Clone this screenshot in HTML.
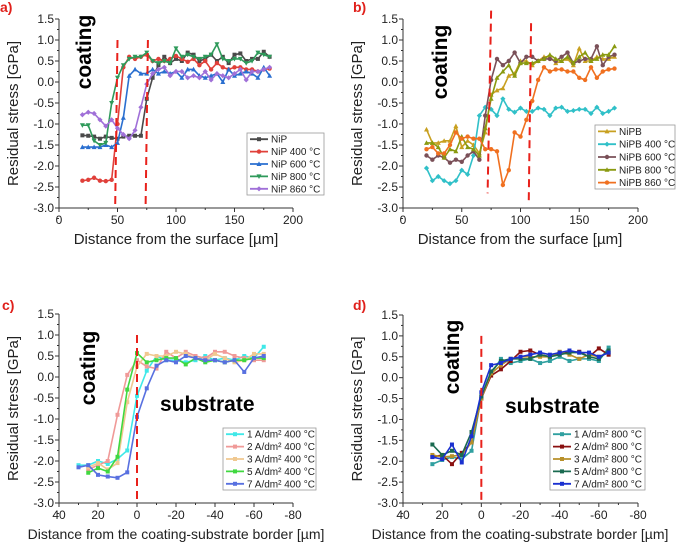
<!DOCTYPE html>
<html><head><meta charset="utf-8">
<style>
body{margin:0;background:#fff;}
svg{display:block;font-family:"Liberation Sans",sans-serif;}
</style></head>
<body>
<svg id="chart" width="685" height="544" viewBox="0 0 685 544" xmlns="http://www.w3.org/2000/svg"></svg>
<script>
// ----- Panel a data -----
const aX = [20,25,30,35,40,45,50,55,60,65,70,75,80,85,90,95,100,105,110,115,120,125,130,135,140,145,150,155,160,165,170,175,180];
const aNames = ["NiP","NiP 400 °C","NiP 600 °C","NiP 800 °C","NiP 860 °C"];
const aNiP = [-1.27,-1.28,-1.3,-1.35,-1.3,-1.33,-1.35,-1.3,-1.28,-1.28,-1.28,-0.4,0.1,0.4,0.6,0.45,0.55,0.5,0.7,0.65,0.5,0.55,0.65,0.5,0.6,0.45,0.65,0.68,0.5,0.55,0.55,0.72,0.6];
const aNiP400 = [-2.35,-2.33,-2.28,-2.35,-2.36,-2.33,-1.0,0.35,0.6,0.55,0.6,0.65,0.5,0.55,0.5,0.55,0.62,0.55,0.48,0.55,0.4,0.5,0.3,0.45,0.35,0.3,0.35,0.35,0.3,0.3,0.25,0.3,0.32];
const aNiP600 = [-1.55,-1.55,-1.55,-1.55,-1.5,-1.55,-1.45,-0.85,0.15,0.3,0.2,0.2,0.3,0.2,0.25,0.2,0.25,0.1,0.3,0.3,0.15,0.1,0.15,0.2,0.0,0.3,0.15,0.2,0.25,0.2,0.1,0.35,0.15];
const aNiP800 = [-1.03,-1.03,-1.4,-1.5,-1.45,-0.5,0.1,0.4,0.55,0.6,0.6,0.7,0.5,0.45,0.5,0.45,0.8,0.6,0.65,0.6,0.55,0.6,0.65,0.9,0.55,0.5,0.55,0.55,0.45,0.5,0.7,0.65,0.6];
const aNiP860 = [-0.78,-0.72,-0.75,-0.9,-1.05,-0.9,-1.1,-1.25,-1.35,-1.15,-0.6,-0.05,0.2,0.3,0.35,0.15,0.25,0.25,0.1,0.15,0.1,0.25,0.05,0.2,0.15,0.1,0.2,0.3,0.05,0.25,0.25,0.3,0.35];
// ----- Panel b data -----
const bX = aX;
const bNames = ["NiPB","NiPB 400 °C","NiPB 600 °C","NiPB 800 °C","NiPB 860 °C"];
const bNiPB = [-1.13,-1.45,-1.45,-1.4,-1.4,-1.05,-1.55,-1.4,-1.5,-1.7,-1.2,-0.3,-0.2,-0.15,0.15,0.2,0.5,0.5,0.4,0.5,0.6,0.6,0.45,0.5,0.55,0.4,0.8,0.5,0.5,0.6,0.55,0.55,0.6];
const bNiPB400 = [-2.05,-2.35,-2.25,-2.35,-2.42,-2.35,-2.1,-2.2,-1.75,-0.8,-0.6,-0.65,-0.8,-0.4,-0.65,-0.72,-0.62,-0.7,-0.7,-0.62,-0.65,-0.8,-0.62,-0.6,-0.7,-0.68,-0.65,-0.65,-0.75,-0.6,-0.75,-0.7,-0.62];
const bNiPB600 = [-1.75,-1.85,-1.75,-1.8,-1.92,-1.85,-1.9,-1.75,-1.65,-1.85,-0.8,0.05,0.55,0.4,0.5,0.7,0.45,0.6,0.6,0.5,0.55,0.55,0.5,0.6,0.7,0.45,0.5,0.55,0.55,0.85,0.4,0.6,0.65];
const bNiPB800 = [-1.45,-1.45,-1.55,-1.8,-1.6,-1.65,-1.3,-1.55,-1.6,-1.75,-1.1,-0.4,0.1,0.25,0.4,0.15,0.45,0.45,0.45,0.5,0.55,0.65,0.55,0.5,0.6,0.45,0.6,0.7,0.5,0.55,0.65,0.65,0.85];
const bNiPB860 = [-1.6,-1.55,-1.7,-1.7,-1.5,-1.2,-1.35,-1.3,-1.35,-1.35,-1.6,-1.6,-1.65,-2.45,-2.1,-1.2,-1.3,-0.9,-0.45,0.05,0.35,0.25,0.3,0.3,0.25,0.25,0.1,0.05,0.35,0.1,0.25,0.3,0.32];
// ----- Panel c data -----
const cX30 = [30,25,20,15,10,5,0,-5,-10,-15,-20,-25,-30,-35,-40,-45,-50,-55,-60,-65];
const cX25 = [25,20,15,10,5,0,-5,-10,-15,-20,-25,-30,-35,-40,-45,-50,-55,-60,-65];
const cNames = ["1 A/dm² 400 °C","2 A/dm² 400 °C","3 A/dm² 400 °C","5 A/dm² 400 °C","7 A/dm² 400 °C"];
const c1 = [-2.1,-2.1,-2.0,-2.07,-1.95,-1.75,-0.45,0.15,0.5,0.4,0.4,0.35,0.4,0.5,0.4,0.45,0.4,0.5,0.45,0.72];
const c2 = [-2.2,-2.1,-2.0,-0.9,0.05,0.4,0.25,0.2,0.6,0.45,0.6,0.5,0.45,0.6,0.6,0.5,0.45,0.4,0.4];
const c3 = [-2.15,-2.05,-2.2,-2.05,-0.6,0.25,0.55,0.5,0.5,0.6,0.55,0.45,0.4,0.55,0.45,0.35,0.4,0.55,0.55];
const c5 = [-2.28,-2.17,-2.25,-1.9,-0.3,0.57,0.35,0.4,0.45,0.45,0.3,0.45,0.35,0.4,0.35,0.4,0.4,0.45,0.45];
const c7 = [-2.15,-2.1,-2.33,-2.37,-2.4,-2.27,-0.95,-0.27,0.27,0.4,0.35,0.5,0.45,0.4,0.4,0.35,0.4,0.12,0.45,0.5];
// ----- Panel d data -----
const dX = cX25;
const dNames = ["1 A/dm² 800 °C","2 A/dm² 800 °C","3 A/dm² 800 °C","5 A/dm² 800 °C","7 A/dm² 800 °C"];
const d1 = [-2.07,-1.97,-1.9,-1.95,-1.75,-0.45,0.1,0.45,0.35,0.4,0.45,0.35,0.4,0.5,0.4,0.45,0.45,0.4,0.72];
const d2 = [-1.9,-1.85,-2.07,-1.8,-1.55,-0.5,0.05,0.2,0.4,0.62,0.65,0.55,0.5,0.6,0.6,0.62,0.5,0.7,0.55];
const d3 = [-1.85,-1.9,-1.88,-1.85,-1.55,-0.5,0.1,0.3,0.45,0.5,0.5,0.5,0.5,0.62,0.55,0.45,0.55,0.5,0.6];
const d5 = [-1.6,-1.85,-1.75,-1.85,-1.3,-0.45,0.15,0.4,0.45,0.45,0.45,0.55,0.5,0.55,0.6,0.6,0.5,0.45,0.65];
const d7 = [-1.9,-1.95,-1.6,-2.03,-1.4,-0.35,0.3,0.35,0.45,0.5,0.55,0.6,0.55,0.6,0.65,0.6,0.6,0.5,0.6];
const yTicks = [1.5,1.0,0.5,0.0,-0.5,-1.0,-1.5,-2.0,-2.5,-3.0];
const surfTicks = [0,50,100,150,200];
const borderTicks = [40,20,0,-20,-40,-60,-80];

const NS="http://www.w3.org/2000/svg";
const svg=document.getElementById('chart');
function el(tag,attrs,parent,text){const e=document.createElementNS(NS,tag);for(const k in attrs)e.setAttribute(k,attrs[k]);if(text!==undefined)e.textContent=text;(parent||svg).appendChild(e);return e;}

function marker(g,type,x,y,color){
  let m;
  if(type==='sq') m=el('rect',{x:x-2,y:y-2,width:4,height:4,fill:color},g);
  else if(type==='ci') m=el('circle',{cx:x,cy:y,r:2.2,fill:color},g);
  else if(type==='tu') m=el('path',{d:`M${x},${y-2.6}L${x+2.5},${y+2}L${x-2.5},${y+2}Z`,fill:color},g);
  else if(type==='td') m=el('path',{d:`M${x},${y+2.6}L${x+2.5},${y-2}L${x-2.5},${y-2}Z`,fill:color},g);
  else m=el('path',{d:`M${x},${y-2.6}L${x+2.6},${y}L${x},${y+2.6}L${x-2.6},${y}Z`,fill:color},g);
  
  
}

function panel(cfg){
  const g=el('g',{});
  const {x0,x1,y0,y1,xmin,xmax}=cfg;
  const sx=v=>x0+(v-xmin)/(xmax-xmin)*(x1-x0);
  const sy=v=>y1+(v-1.5)/(-3.0-1.5)*(y0-y1);
  // label
  el('text',{x:cfg.lx,y:cfg.ly,'font-size':14,'font-weight':'bold',fill:'#e0201b',},g,cfg.label);
  // axes
  el('line',{x1:x0,y1:y1,x2:x0,y2:y0,stroke:'#333','stroke-width':1,},g);
  el('line',{x1:x0,y1:y0,x2:x1,y2:y0,stroke:'#333','stroke-width':1,},g);
  yTicks.forEach(t=>{const y=sy(t);
    el('line',{x1:x0-4,y1:y,x2:x0,y2:y,stroke:'#333'},g);
    el('line',{x1:x0-2,y1:sy(t-0.25),x2:x0,y2:sy(t-0.25),stroke:'#333'},g);
    el('text',{x:x0-5,y:y+4,'font-size':12,'text-anchor':'end',fill:'#222',},g,t.toFixed(1));
  });
  const xt=cfg.xticks, step=(xt[1]-xt[0])/2;
  xt.forEach((t,i)=>{const x=sx(t);
    el('line',{x1:x,y1:y0,x2:x,y2:y0+4,stroke:'#333'},g);
    if(i<xt.length-1) el('line',{x1:sx(t+step),y1:y0,x2:sx(t+step),y2:y0+2,stroke:'#333'},g);
    el('text',{x:x,y:y0+16,'font-size':12,'text-anchor':'middle',fill:'#222',},g,String(t));
  });
  el('text',{x:(cfg.tx),y:y0+36,'font-size':cfg.tfs,'text-anchor':'middle',fill:'#222',},g,cfg.xtitle);
  const ycx=x0-41, ycy=(y0+y1)/2;
  el('text',{x:ycx,y:ycy,'font-size':15,'text-anchor':'middle',fill:'#222',transform:`rotate(-90 ${ycx} ${ycy})`,},g,'Residual stress [GPa]');
  // annotations
  el('text',{x:cfg.coat[0],y:cfg.coat[1],'font-size':21,'font-weight':'bold','text-anchor':'middle',fill:'#000',transform:`rotate(-90 ${cfg.coat[0]} ${cfg.coat[1]})`,},g,'coating');
  if(cfg.sub) el('text',{x:cfg.sub[0],y:cfg.sub[1],'font-size':21,'font-weight':'bold',fill:'#000',},g,'substrate');
  // series
  cfg.series.forEach((s,si)=>{
    const sg=el('g',{},g);
    const pts=s.y.map((v,i)=>sx(s.x[i])+','+sy(v)).join(' ');
    el('polyline',{points:pts,fill:'none',stroke:s.c,'stroke-width':1.6},sg);
    s.y.forEach((v,i)=>marker(sg,s.m,sx(s.x[i]),sy(v),s.c));
  });
  // dashed lines
  cfg.dash.forEach(d=>{
    el('line',{x1:sx(d[0]),y1:sy(d[1]),x2:sx(d[2]),y2:sy(d[3]),stroke:'#e8211b','stroke-width':2,'stroke-dasharray':'8,5',},g);
  });
  // legend
  const L=cfg.legend;
  const lg=el('g',{},g);
  el('rect',{x:L[0],y:L[1],width:L[2],height:L[3],fill:'#fff',stroke:'#999','stroke-width':0.8},lg);
  const rowH=L[3]/5;
  cfg.series.forEach((s,i)=>{const y=L[1]+rowH*(i+0.5);
    const le=el('g',{},lg);
    el('line',{x1:L[0]+3,y1:y,x2:L[0]+21,y2:y,stroke:s.c,'stroke-width':1.8},le);
    marker(le,s.m,L[0]+12,y,s.c);
    el('text',{x:L[0]+24,y:y+3.5,'font-size':10,fill:'#222'},le,s.n);
  });
}

panel({name:'panel-a',label:'a)',lx:0,ly:12,x0:59,x1:293,y0:208,y1:19,xmin:0,xmax:200,xticks:surfTicks,
  xtitle:'Distance from the surface [µm]',tx:176,tfs:15,coat:[91,52],
  dash:[[50,1.0,48,-3.0],[76,1.0,74,-3.0]],legend:[247,133,77,62],
  series:[{n:aNames[0],x:aX,y:aNiP,c:'#4a4a4a',m:'sq'},{n:aNames[1],x:aX,y:aNiP400,c:'#e0403a',m:'ci'},{n:aNames[2],x:aX,y:aNiP600,c:'#2a6fd0',m:'tu'},{n:aNames[3],x:aX,y:aNiP800,c:'#2e9a5a',m:'td'},{n:aNames[4],x:aX,y:aNiP860,c:'#a070d8',m:'di'}]});
panel({name:'panel-b',label:'b)',lx:353,ly:12,x0:403,x1:638,y0:208,y1:19,xmin:0,xmax:200,xticks:surfTicks,
  xtitle:'Distance from the surface [µm]',tx:520,tfs:15,coat:[447,62],
  dash:[[75,1.7,72,-2.65],[109,1.4,107,-2.9]],legend:[595,125,80,64],
  series:[{n:bNames[0],x:bX,y:bNiPB,c:'#c8a020',m:'tu'},{n:bNames[1],x:bX,y:bNiPB400,c:'#30c0c8',m:'di'},{n:bNames[2],x:bX,y:bNiPB600,c:'#7a5058',m:'ci'},{n:bNames[3],x:bX,y:bNiPB800,c:'#8a9a10',m:'tu'},{n:bNames[4],x:bX,y:bNiPB860,c:'#f07020',m:'ci'}]});
panel({name:'panel-c',label:'c)',lx:2,ly:310,x0:59,x1:293,y0:503,y1:314,xmin:40,xmax:-80,xticks:borderTicks,
  xtitle:'Distance from the coating-substrate border [µm]',tx:176,tfs:14,coat:[95,368],sub:[160,411],
  dash:[[0,1.0,0,-3.0]],legend:[223,428,93,62],
  series:[{n:cNames[0],x:cX30,y:c1,c:'#40e8e8',m:'sq'},{n:cNames[1],x:cX25,y:c2,c:'#f09a98',m:'sq'},{n:cNames[2],x:cX25,y:c3,c:'#f0c890',m:'sq'},{n:cNames[3],x:cX25,y:c5,c:'#40d840',m:'sq'},{n:cNames[4],x:cX30,y:c7,c:'#5870e0',m:'sq'}]});
panel({name:'panel-d',label:'d)',lx:353,ly:310,x0:403,x1:638,y0:503,y1:315,xmin:40,xmax:-80,xticks:borderTicks,
  xtitle:'Distance from the coating-substrate border [µm]',tx:520,tfs:14,coat:[459,357],sub:[505,413],
  dash:[[0,1.0,0,-3.0]],legend:[550,428,95,62],
  series:[{n:dNames[0],x:dX,y:d1,c:'#30a0a0',m:'sq'},{n:dNames[1],x:dX,y:d2,c:'#8a1010',m:'sq'},{n:dNames[2],x:dX,y:d3,c:'#b8902a',m:'sq'},{n:dNames[3],x:dX,y:d5,c:'#1a6a50',m:'sq'},{n:dNames[4],x:dX,y:d7,c:'#1a30d0',m:'sq'}]});
</script>
</body></html>
